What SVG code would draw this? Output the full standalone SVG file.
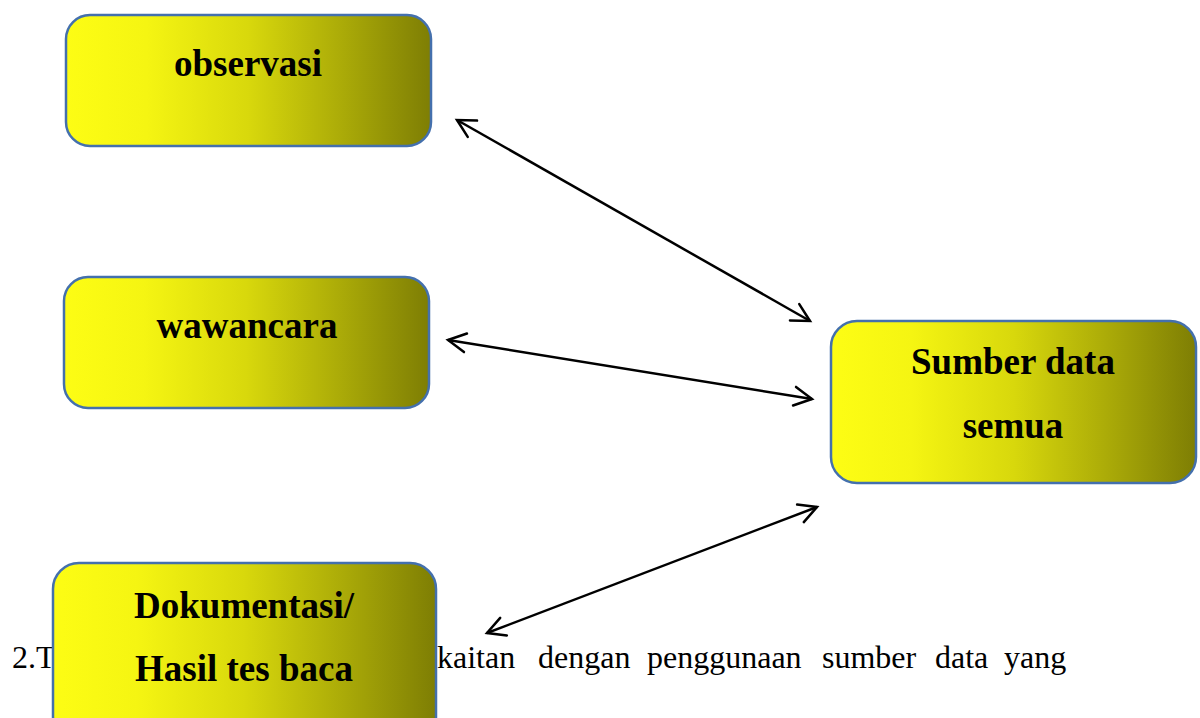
<svg xmlns="http://www.w3.org/2000/svg" width="1200" height="718" viewBox="0 0 1200 718">
  <style>
    .box { fill: url(#yg); stroke: #4470ad; stroke-width: 2.5; }
    .lbl { font-family: "Liberation Serif", "Times New Roman", serif; font-weight: bold; font-size: 37px; fill: #000; text-anchor: middle; }
    .para { font-family: "Liberation Serif", "Times New Roman", serif; font-size: 32px; fill: #000; }
    .conn { stroke: #000; stroke-width: 2.5; fill: none; marker-start: url(#ah); marker-end: url(#ah); }
  </style>
  <defs>
    <linearGradient id="yg" x1="0" y1="0" x2="1" y2="0">
      <stop offset="0" stop-color="#fdfd14"/>
      <stop offset="0.22" stop-color="#f5f512"/>
      <stop offset="0.5" stop-color="#d8d80c"/>
      <stop offset="0.75" stop-color="#acac08"/>
      <stop offset="1" stop-color="#7e7e04"/>
    </linearGradient>
    <marker id="ah" markerUnits="userSpaceOnUse" markerWidth="30" markerHeight="30" viewBox="-25 -15 30 30" refX="0" refY="0" orient="auto-start-reverse" overflow="visible">
      <path d="M -17.7 -9.4 L 0 0 L -17.7 9.4" fill="none" stroke="#000" stroke-width="2.5" stroke-linecap="round" stroke-linejoin="miter"/>
    </marker>
  </defs>
  <rect width="1200" height="718" fill="#fff"/>

  <g id="paragraph">
    <text class="para" x="12" y="668">2.T</text>
    <text class="para" x="437" y="668">kaitan</text>
    <text class="para" x="538" y="668">dengan</text>
    <text class="para" x="647" y="668">penggunaan</text>
    <text class="para" x="822" y="668">sumber</text>
    <text class="para" x="935" y="668">data</text>
    <text class="para" x="1004" y="668">yang</text>
  </g>

  <g id="connectors">
    <line class="conn" x1="457" y1="120" x2="810" y2="321"/>
    <line class="conn" x1="448" y1="340" x2="812" y2="399"/>
    <line class="conn" x1="817" y1="507" x2="487" y2="633"/>
  </g>

  <g id="observasi">
    <rect class="box" x="66" y="15" width="365" height="131" rx="24" ry="24"/>
    <text class="lbl" x="248" y="76">observasi</text>
  </g>

  <g id="wawancara">
    <rect class="box" x="64" y="277" width="365" height="131" rx="24" ry="24"/>
    <text class="lbl" x="247" y="338">wawancara</text>
  </g>

  <g id="sumber-data">
    <rect class="box" x="831" y="321" width="365" height="162" rx="26" ry="26"/>
    <text class="lbl" x="1013" y="374">Sumber data</text>
    <text class="lbl" x="1013" y="438">semua</text>
  </g>

  <g id="dokumentasi">
    <rect class="box" x="53" y="563" width="383" height="180" rx="26" ry="26"/>
    <text class="lbl" x="244" y="618">Dokumentasi/</text>
    <text class="lbl" x="244" y="681">Hasil tes baca</text>
  </g>
</svg>
